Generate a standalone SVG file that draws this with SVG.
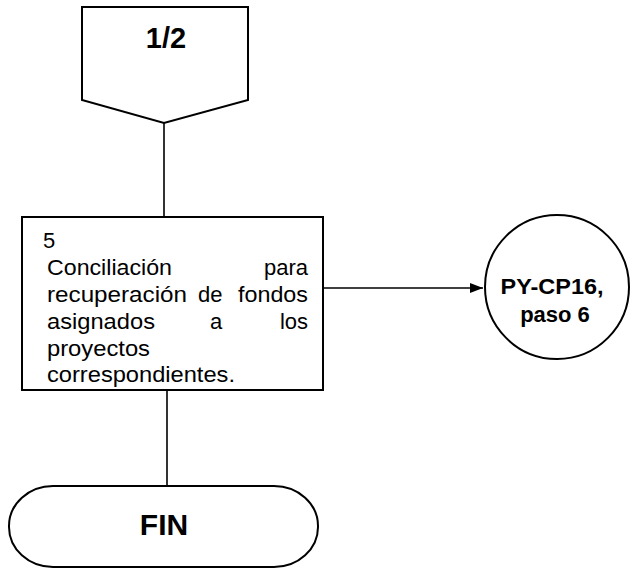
<svg xmlns="http://www.w3.org/2000/svg" width="631" height="569" viewBox="0 0 631 569">
  <style>
    .shape { fill: #ffffff; stroke: #000000; stroke-width: 2; }
    .conn { fill: none; stroke: #000000; stroke-width: 1.6; }
    .body { font-family: "Liberation Sans", Arial, sans-serif; font-size: 22px; fill: #000000; }
    .bold { font-family: "Liberation Sans", Arial, sans-serif; font-weight: bold; fill: #000000; text-anchor: middle; }
  </style>
  <defs>
    <marker id="arrow" markerWidth="14" markerHeight="12" refX="13" refY="6" orient="auto" markerUnits="userSpaceOnUse">
      <path d="M0,1 L13,6 L0,11 Z" fill="#000000"/>
    </marker>
  </defs>
  <rect width="631" height="569" fill="#ffffff"/>

  <!-- connectors -->
  <g id="connectors">
    <line class="conn" x1="164" y1="123" x2="164" y2="217"/>
    <line class="conn" x1="167" y1="390" x2="167" y2="486"/>
    <line class="conn" x1="323" y1="288" x2="483" y2="288" marker-end="url(#arrow)"/>
  </g>

  <!-- off-page connector -->
  <g id="offpage-1-2">
    <polygon class="shape" points="82,7 248,7 248,100 164,123 82,100"/>
    <text class="bold" x="166" y="48" font-size="29">1/2</text>
  </g>

  <!-- process step 5 (justified text) -->
  <g id="step-5">
    <rect class="shape" x="22" y="217" width="301" height="173"/>
    <text class="body" x="43" y="248">5</text>
    <text class="body" x="47" y="275" textLength="125" lengthAdjust="spacingAndGlyphs">Conciliación</text>
    <text class="body" x="308" y="275" text-anchor="end">para</text>
    <text class="body" x="47" y="302" textLength="140" lengthAdjust="spacingAndGlyphs">recuperación</text>
    <text class="body" x="198" y="302">de</text>
    <text class="body" x="238" y="302" textLength="70" lengthAdjust="spacingAndGlyphs">fondos</text>
    <text class="body" x="47" y="329" textLength="108" lengthAdjust="spacingAndGlyphs">asignados</text>
    <text class="body" x="216" y="329" text-anchor="middle">a</text>
    <text class="body" x="308" y="329" text-anchor="end">los</text>
    <text class="body" x="47" y="356" textLength="103" lengthAdjust="spacingAndGlyphs">proyectos</text>
    <text class="body" x="47" y="382" textLength="188" lengthAdjust="spacingAndGlyphs">correspondientes.</text>
  </g>

  <!-- reference to another procedure -->
  <g id="ref-py-cp16">
    <circle class="shape" cx="557" cy="287" r="72"/>
    <text class="bold" x="552" y="294" font-size="22" textLength="103" lengthAdjust="spacingAndGlyphs">PY-CP16,</text>
    <text class="bold" x="555" y="322" font-size="22">paso 6</text>
  </g>

  <!-- terminator -->
  <g id="fin">
    <rect class="shape" x="9" y="486" width="309" height="81" rx="44" ry="40"/>
    <text class="bold" x="164" y="535" font-size="30">FIN</text>
  </g>
</svg>
